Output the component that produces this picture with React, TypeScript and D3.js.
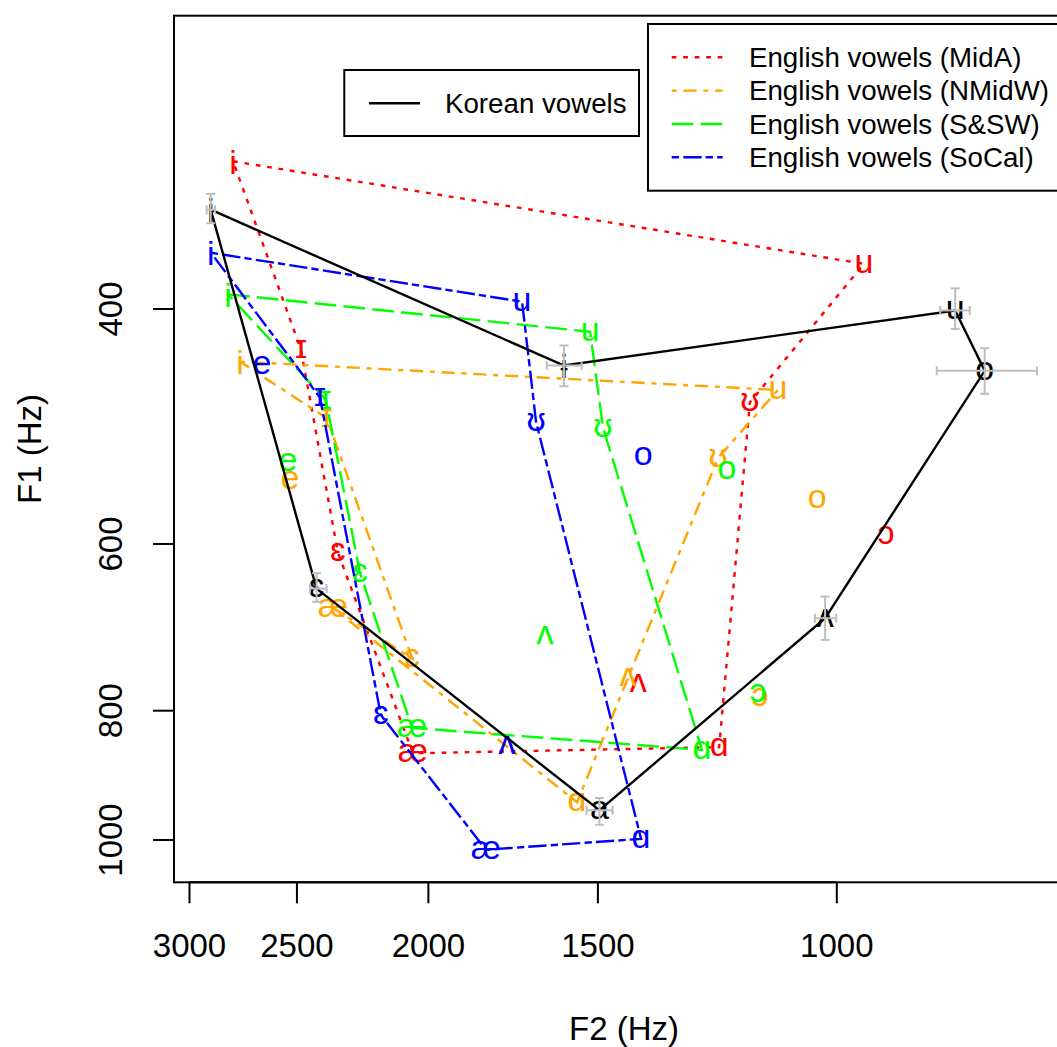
import React from 'react';
import * as d3 from 'd3';

// ---------- data ----------
const xTicks = [3000, 2500, 2000, 1500, 1000];
const yTicks = [400, 600, 800, 1000];

const koreanVowels = ['i', 'ɨ', 'u', 'o', 'ʌ', 'a', 'ɛ'];
const koreanF2 = [2894, 1589, 818, 778, 1020, 1496, 2418];
const koreanF1 = [337, 441, 401, 445, 682, 950, 648];
const koreanF2Low = [2873, 1542, 798, 712, 1001, 1463, 2377];
const koreanF2High = [2914, 1636, 839, 844, 1038, 1529, 2445];
const koreanF1Low = [328, 426, 386, 428, 657, 930, 631];
const koreanF1High = [345, 457, 414, 463, 708, 974, 663];
const koreanPolygon = ['i', 'ɨ', 'u', 'o', 'ʌ', 'a', 'ɛ', 'i'];

const englishPolygon = ['i', 'u', 'ʊ', 'ɑ', 'æ', 'ɛ', 'ɪ', 'i'];

const midaVowels = ['i', 'ɪ', 'ɛ', 'æ', 'ɑ', 'ʌ', 'ɔ', 'ʊ', 'u'];
const midaF2 = [2786, 2483, 2332, 2053, 1221, 1401, 920, 1159, 955];
const midaF1 = [310, 429, 609, 861, 852, 763, 591, 470, 370];

const nmidwVowels = ['i', 'ɪ', 'e', 'ɛ', 'æ', 'ɑ', 'ʌ', 'ɔ', 'o', 'ʊ', 'u'];
const nmidwF2 = [2754, 2376, 2530, 2056, 2352, 1554, 1425, 1139, 1034, 1223, 1105];
const nmidwF1 = [438, 483, 537, 731, 670, 937, 755, 781, 555, 517, 460];

const sswVowels = ['i', 'ɪ', 'e', 'ɛ', 'æ', 'ɑ', 'ʌ', 'ɔ', 'o', 'ʊ', 'u'];
const sswF2 = [2810, 2380, 2538, 2246, 2056, 1257, 1641, 1143, 1205, 1487, 1520];
const sswF1 = [390, 468, 521, 631, 824, 856, 702, 776, 528, 491, 416];

const socalVowels = ['i', 'ɪ', 'e', 'ɛ', 'æ', 'ɑ', 'ʌ', 'o', 'ʊ', 'u'];
const socalF2 = [2893, 2404, 2653, 2168, 1814, 1394, 1750, 1389, 1666, 1706];
const socalF1 = [363, 466, 441, 806, 1017, 998, 849, 516, 486, 395];

const englishLabels = [
  'English vowels (MidA)',
  'English vowels (NMidW)',
  'English vowels (S&SW)',
  'English vowels (SoCal)',
];
const koreanLabel = 'Korean vowels';

// ---------- styles ----------
const FONT = "'Liberation Sans', Arial, Helvetica, 'DejaVu Sans', sans-serif";
const seriesStyles = [
  { color: '#FF0000', dash: '4.7,6.8' },
  { color: '#FFA500', dash: '5,6.7,13.3,6.7' },
  { color: '#00FF00', dash: '21.7,7.3' },
  { color: '#0000FF', dash: '7.3,4.3,18.3,4' },
];
const seriesData = [
  { v: midaVowels, f2: midaF2, f1: midaF1 },
  { v: nmidwVowels, f2: nmidwF2, f1: nmidwF1 },
  { v: sswVowels, f2: sswF2, f1: sswF1 },
  { v: socalVowels, f2: socalF2, f1: socalF1 },
];

const W = 1057;
const H = 1047;
const plotLeft = 174;
const plotTop = 15.7;
const plotBottom = 882.3;
const plotRight = 1074;

const x = d3.scaleLog().domain([3000, 1000]).range([189.5, 836.8]);
const y = d3.scaleLog().domain([400, 1000]).range([309, 840]);

const vshift = (ch: string) => (ch === 'i' || ch === 'ɨ' ? '0.36em' : '0.26em');

export default function App() {
  const line = d3
    .line<[number, number]>()
    .x((d) => x(d[0]))
    .y((d) => y(d[1]));

  const polyPath = (vowels: string[], f2: number[], f1: number[], order: string[]) =>
    line(
      order.map((o) => {
        const i = vowels.indexOf(o);
        return [f2[i], f1[i]] as [number, number];
      })
    ) as string;

  const gray = '#BEBEBE';
  const cap = 4.5;

  return (
    <div style={{ position: 'absolute', left: 0, top: 0, width: W, height: H, overflow: 'hidden', background: '#fff' }}>
      <svg width={W} height={H} style={{ display: 'block' }} fontFamily={FONT}>
        <rect x={0} y={0} width={W} height={H} fill="#fff" />
        <defs>
          <clipPath id="plotclip">
            <rect x={plotLeft} y={plotTop} width={plotRight - plotLeft} height={plotBottom - plotTop} />
          </clipPath>
        </defs>

        <g clipPath="url(#plotclip)">
          {/* English series */}
          {seriesData.map((s, k) => (
            <g key={k}>
              <path
                d={polyPath(s.v, s.f2, s.f1, englishPolygon)}
                fill="none"
                stroke={seriesStyles[k].color}
                strokeWidth={2.4}
                strokeDasharray={seriesStyles[k].dash}
              />
              {s.v.map((v, i) => (
                <text
                  key={i}
                  x={x(s.f2[i])}
                  y={y(s.f1[i])}
                  dy={vshift(v)}
                  textAnchor="middle"
                  fontSize={34}
                  fill={seriesStyles[k].color}
                >
                  {v}
                </text>
              ))}
            </g>
          ))}

          {/* Korean */}
          <path
            d={polyPath(koreanVowels, koreanF2, koreanF1, koreanPolygon)}
            fill="none"
            stroke="#000"
            strokeWidth={2.4}
          />
          {koreanVowels.map((v, i) => (
            <text
              key={i}
              x={x(koreanF2[i])}
              y={y(koreanF1[i])}
              dy={vshift(v)}
              textAnchor="middle"
              fontSize={34}
              fill="#000"
            >
              {v}
            </text>
          ))}
          {koreanVowels.map((v, i) => {
            const cx = x(koreanF2[i]);
            const cy = y(koreanF1[i]);
            const xl = x(koreanF2High[i]);
            const xr = x(koreanF2Low[i]);
            const yt = y(koreanF1Low[i]);
            const yb = y(koreanF1High[i]);
            return (
              <g key={'e' + i} stroke={gray} strokeWidth={2}>
                <line x1={cx} x2={cx} y1={yt} y2={yb} />
                <line x1={cx - cap} x2={cx + cap} y1={yt} y2={yt} />
                <line x1={cx - cap} x2={cx + cap} y1={yb} y2={yb} />
                <line x1={xl} x2={xr} y1={cy} y2={cy} />
                <line x1={xl} x2={xl} y1={cy - cap} y2={cy + cap} />
                <line x1={xr} x2={xr} y1={cy - cap} y2={cy + cap} />
              </g>
            );
          })}
        </g>

        {/* plot box */}
        <rect
          x={plotLeft}
          y={plotTop}
          width={plotRight - plotLeft}
          height={plotBottom - plotTop}
          fill="none"
          stroke="#000"
          strokeWidth={2}
        />

        {/* x axis */}
        <line x1={x(3000)} x2={x(1000)} y1={plotBottom} y2={plotBottom} stroke="#000" strokeWidth={2} />
        {xTicks.map((t) => (
          <g key={t}>
            <line x1={x(t)} x2={x(t)} y1={plotBottom} y2={plotBottom + 21} stroke="#000" strokeWidth={2} />
            <text x={x(t)} y={957} textAnchor="middle" fontSize={33} fill="#000">
              {t}
            </text>
          </g>
        ))}
        <text x={(plotLeft + plotRight) / 2} y={1040} textAnchor="middle" fontSize={33} fill="#000">
          F2 (Hz)
        </text>

        {/* y axis */}
        <line x1={plotLeft} x2={plotLeft} y1={y(400)} y2={y(1000)} stroke="#000" strokeWidth={2} />
        {yTicks.map((t) => (
          <g key={t}>
            <line x1={plotLeft - 21} x2={plotLeft} y1={y(t)} y2={y(t)} stroke="#000" strokeWidth={2} />
            <text
              transform={`translate(122,${y(t)}) rotate(-90)`}
              textAnchor="middle"
              fontSize={33}
              fill="#000"
            >
              {t}
            </text>
          </g>
        ))}
        <text
          transform={`translate(41,${(plotTop + plotBottom) / 2}) rotate(-90)`}
          textAnchor="middle"
          fontSize={33}
          fill="#000"
        >
          F1 (Hz)
        </text>

        {/* Korean legend */}
        <rect x={344.3} y={70} width={639 - 344.3} height={66} fill="#fff" stroke="#000" strokeWidth={2} />
        <line x1={369} x2={420} y1={103.3} y2={103.3} stroke="#000" strokeWidth={2.4} />
        <text x={445} y={103.3} dy="0.35em" fontSize={27.7} fill="#000">
          {koreanLabel}
        </text>

        {/* English legend */}
        <rect x={648} y={24} width={1062 - 648} height={190.7 - 24} fill="#fff" stroke="#000" strokeWidth={2} />
        {englishLabels.map((lab, k) => {
          const ly = 57.3 + k * 33.33;
          return (
            <g key={lab}>
              <line
                x1={671.7}
                x2={722.7}
                y1={ly}
                y2={ly}
                stroke={seriesStyles[k].color}
                strokeWidth={2.4}
                strokeDasharray={seriesStyles[k].dash}
              />
              <text x={749} y={ly} dy="0.35em" fontSize={27.7} fill="#000">
                {lab}
              </text>
            </g>
          );
        })}
      </svg>
    </div>
  );
}
